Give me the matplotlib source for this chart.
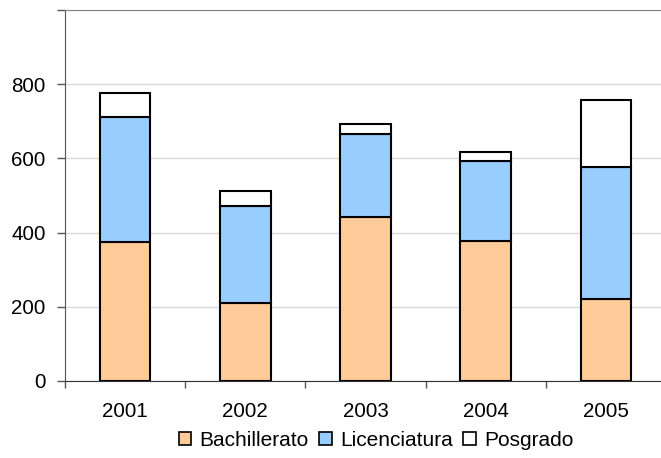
import numpy as np
import matplotlib
matplotlib.use("Agg")
import matplotlib.pyplot as plt

years = ['2001', '2002', '2003', '2004', '2005']
bachillerato = [374, 209, 443, 377, 221]
licenciatura = [337, 264, 222, 217, 357]
posgrado = [66, 39, 27, 22, 179]

plt.rcParams['font.family'] = ['Liberation Sans', 'DejaVu Sans']

fig = plt.figure(figsize=(6.61, 4.58), dpi=100)
ax = fig.add_axes([65 / 661, (458 - 381) / 458, 601 / 661, 371 / 458])

x = np.arange(len(years))
bach = np.array(bachillerato)
lic = np.array(licenciatura)
pos = np.array(posgrado)
kw = dict(width=0.42, edgecolor='black', linewidth=1.5, zorder=3)
ax.bar(x, bach, color='#FFCC99', label='Bachillerato', **kw)
ax.bar(x, lic, bottom=bach, color='#99CCFF', label='Licenciatura', **kw)
ax.bar(x, pos, bottom=bach + lic, color='white', label='Posgrado', **kw)

ax.set_xlim(-0.5, 4.5)
ax.set_ylim(0, 1000)
ax.set_yticks([0, 200, 400, 600, 800, 1000])
ax.set_yticklabels(['0', '200', '400', '600', '800', ''])
ax.set_xticks(x)
ax.set_xticklabels(years)
ax.set_xticks(np.arange(-0.5, 5, 1), minor=True)
ax.tick_params(axis='x', which='major', length=0, pad=15, labelsize=14.8)
ax.tick_params(axis='x', which='minor', length=5, width=1, color='#555555')
ax.tick_params(axis='y', length=6, width=1, color='#555555', pad=8, labelsize=14.8)

ax.yaxis.grid(True, color='#d9d9d9', linewidth=1, zorder=0)
ax.spines['right'].set_visible(False)
ax.spines['top'].set_color('#808080')
ax.spines['left'].set_color('#555555')
ax.spines['bottom'].set_color('#333333')

leg = ax.legend(loc='center', bbox_to_anchor=(376 / 661, 1 - 440 / 458),
                bbox_transform=fig.transFigure, ncol=3, frameon=False,
                fontsize=15, handlelength=0.6, handleheight=0.6,
                handletextpad=0.4, columnspacing=0.5, borderaxespad=0)
for h in leg.legend_handles:
    h.set_linewidth(1.2)

fig.savefig('out.png', dpi=100)
